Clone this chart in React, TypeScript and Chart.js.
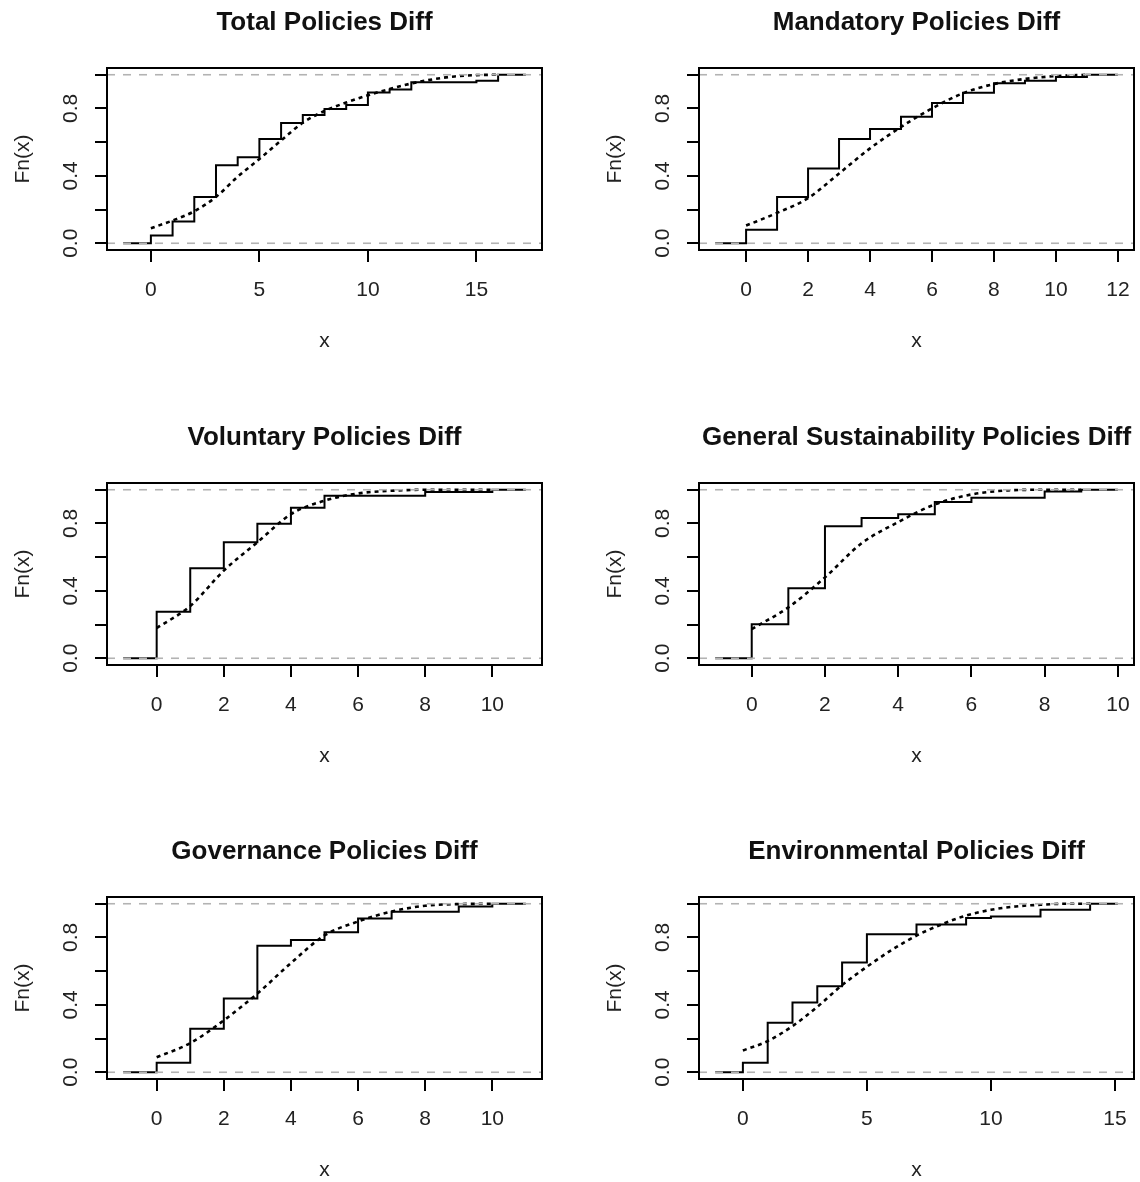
import React, { useEffect, useRef } from "react";
import { Chart, registerables } from "chart.js";

Chart.register(...registerables);

const FONT = '"Liberation Sans", Arial, Helvetica, sans-serif';

// ---------- data ----------
const titles = [
  "Total Policies Diff",
  "Mandatory Policies Diff",
  "Voluntary Policies Diff",
  "General Sustainability Policies Diff",
  "Governance Policies Diff",
  "Environmental Policies Diff",
];

// ECDF knots (x) and Fn values after each jump
const totalKnots = [0, 1, 2, 3, 4, 5, 6, 7, 8, 9, 10, 11, 12, 15, 16];
const totalFn = [0.046, 0.129, 0.274, 0.463, 0.511, 0.618, 0.714, 0.761, 0.797, 0.821, 0.895, 0.913, 0.956, 0.964, 1.0];
const totalFitX = [0, 1, 2, 3, 4, 5, 6, 7, 8, 9, 10, 11, 12, 13, 14, 15, 16];
const totalFitY = [0.089, 0.135, 0.19, 0.275, 0.395, 0.5, 0.61, 0.715, 0.785, 0.835, 0.878, 0.915, 0.948, 0.973, 0.99, 0.998, 1.0];

const mandKnots = [0, 1, 2, 3, 4, 5, 6, 7, 8, 9, 10, 11];
const mandFn = [0.08, 0.274, 0.443, 0.618, 0.678, 0.75, 0.833, 0.893, 0.95, 0.964, 0.986, 1.0];
const mandFitX = [0, 1, 2, 3, 4, 5, 6, 7, 8, 9, 10, 11];
const mandFitY = [0.105, 0.18, 0.268, 0.414, 0.563, 0.69, 0.8, 0.89, 0.945, 0.975, 0.992, 1.0];

const volKnots = [0, 1, 2, 3, 4, 5, 8, 10];
const volFn = [0.276, 0.534, 0.688, 0.798, 0.893, 0.964, 0.986, 1.0];
const volFitX = [0, 1, 2, 3, 4, 5, 6, 7, 8, 9, 10];
const volFitY = [0.179, 0.31, 0.52, 0.688, 0.855, 0.935, 0.978, 0.994, 1.0, 1.0, 1.0];

const genKnots = [0, 1, 2, 3, 4, 5, 6, 8, 9];
const genFn = [0.202, 0.415, 0.784, 0.833, 0.855, 0.927, 0.952, 0.99, 1.0];
const genFitX = [0, 1, 2, 3, 4, 5, 6, 7, 8, 9];
const genFitY = [0.173, 0.302, 0.48, 0.682, 0.808, 0.913, 0.972, 0.996, 1.0, 1.0];

const govKnots = [0, 1, 2, 3, 4, 5, 6, 7, 9, 10];
const govFn = [0.056, 0.258, 0.437, 0.75, 0.785, 0.831, 0.913, 0.952, 0.984, 1.0];
const govFitX = [0, 1, 2, 3, 4, 5, 6, 7, 8, 9, 10];
const govFitY = [0.089, 0.173, 0.308, 0.467, 0.648, 0.812, 0.895, 0.954, 0.988, 0.998, 1.0];

const envKnots = [0, 1, 2, 3, 4, 5, 7, 9, 10, 12, 14];
const envFn = [0.056, 0.294, 0.414, 0.511, 0.652, 0.819, 0.877, 0.915, 0.924, 0.964, 1.0];
const envFitX = [0, 1, 2, 3, 4, 5, 6, 7, 8, 9, 10, 11, 12, 13, 14];
const envFitY = [0.129, 0.185, 0.274, 0.388, 0.517, 0.626, 0.726, 0.811, 0.877, 0.93, 0.964, 0.984, 0.994, 1.0, 1.0];

// step-function plotting range (before R's 4% axis extension) and axis ranges
const stepRanges = [
  [-1.28, 17.28],
  [-1, 12],
  [-1, 11],
  [-1, 10],
  [-1, 11],
  [-1.12, 15.12],
];
const xRanges = [
  [-2.0224, 18.0224],
  [-1.52, 12.52],
  [-1.48, 11.48],
  [-1.44, 10.44],
  [-1.48, 11.48],
  [-1.7696, 15.7696],
];
const xTickSets = [
  [0, 5, 10, 15],
  [0, 2, 4, 6, 8, 10, 12],
  [0, 2, 4, 6, 8, 10],
  [0, 2, 4, 6, 8, 10],
  [0, 2, 4, 6, 8, 10],
  [0, 5, 10, 15],
];
const yTicks = [0, 0.2, 0.4, 0.6, 0.8, 1.0];
const yTickLabels = ["0.0", "", "0.4", "", "0.8", ""];
const yRange = [-0.04, 1.04];
const refLines = [0, 1];

const knotsList = [totalKnots, mandKnots, volKnots, genKnots, govKnots, envKnots];
const fnList = [totalFn, mandFn, volFn, genFn, govFn, envFn];
const fitXList = [totalFitX, mandFitX, volFitX, genFitX, govFitX, envFitX];
const fitYList = [totalFitY, mandFitY, volFitY, genFitY, govFitY, envFitY];

// ---------- layout ----------
const CANVAS_W = 570;
const CANVAS_H = 394;
const colLeft = [0, 592];
const rowTop = [0, 415, 829];

function Panel({ idx }: { idx: number }) {
  const ref = useRef<HTMLCanvasElement | null>(null);

  useEffect(() => {
    if (!ref.current) return;
    const knots = knotsList[idx];
    const fn = fnList[idx];
    const [lo, hi] = stepRanges[idx];
    const [xmin, xmax] = xRanges[idx];
    const xTicks = xTickSets[idx];
    const title = titles[idx];

    const stepData: { x: number; y: number }[] = [{ x: lo, y: 0 }];
    knots.forEach((k, i) => stepData.push({ x: k, y: fn[i] }));
    stepData.push({ x: hi, y: 1 });

    const fitData = fitXList[idx].map((x, i) => ({ x, y: fitYList[idx][i] }));

    const refDatasets = refLines.map((v) => ({
      data: [
        { x: xmin, y: v },
        { x: xmax, y: v },
      ],
      borderColor: "#b3b3b3",
      borderWidth: 1.6,
      borderDash: [8, 8],
      pointRadius: 0,
      fill: false,
    }));

    const textPlugin = {
      id: "rtext" + idx,
      afterDraw(chart: any) {
        const { ctx, chartArea: a } = chart;
        ctx.save();
        ctx.strokeStyle = "#000";
        ctx.lineWidth = 2;
        ctx.strokeRect(a.left, a.top, a.right - a.left, a.bottom - a.top);

        const cx = (a.left + a.right) / 2;
        const cy = (a.top + a.bottom) / 2;
        ctx.fillStyle = "#111";
        ctx.textAlign = "center";
        ctx.textBaseline = "alphabetic";
        ctx.font = `bold 26px ${FONT}`;
        ctx.fillText(title, cx, a.top - 38);

        ctx.fillStyle = "#222";
        ctx.font = `21px ${FONT}`;
        ctx.fillText("x", cx, a.bottom + 97);

        const ys = chart.scales.y;
        yTicks.forEach((v, i) => {
          const lab = yTickLabels[i];
          if (!lab) return;
          ctx.save();
          ctx.translate(a.left - 30, ys.getPixelForValue(v));
          ctx.rotate(-Math.PI / 2);
          ctx.fillText(lab, 0, 0);
          ctx.restore();
        });

        ctx.save();
        ctx.translate(a.left - 78, cy);
        ctx.rotate(-Math.PI / 2);
        ctx.fillText("Fn(x)", 0, 0);
        ctx.restore();
        ctx.restore();
      },
    };

    const gridOpts = {
      display: true,
      drawOnChartArea: false,
      drawTicks: true,
      tickLength: 12,
      color: "#000",
      lineWidth: 2,
    };

    const chart = new Chart(ref.current, {
      type: "line",
      data: {
        datasets: [
          ...refDatasets,
          {
            data: fitData,
            borderColor: "#000",
            borderWidth: 2.6,
            borderDash: [4, 4],
            pointRadius: 0,
            cubicInterpolationMode: "monotone",
            fill: false,
          },
          {
            data: stepData,
            borderColor: "#000",
            borderWidth: 2,
            stepped: "before",
            pointRadius: 0,
            fill: false,
          },
        ] as any,
      },
      options: {
        responsive: false,
        animation: false,
        devicePixelRatio: 1,
        layout: { padding: { left: 0, top: 68, right: 28, bottom: 0 } },
        plugins: {
          legend: { display: false },
          tooltip: { enabled: false },
          title: { display: false },
        },
        scales: {
          x: {
            type: "linear",
            min: xmin,
            max: xmax,
            afterBuildTicks: (s: any) => {
              s.ticks = xTicks.map((v) => ({ value: v }));
            },
            afterFit: (s: any) => {
              s.height = 144;
            },
            grid: gridOpts,
            border: { display: false },
            ticks: {
              color: "#222",
              font: { family: FONT, size: 21 },
              padding: 16,
              maxRotation: 0,
              minRotation: 0,
              autoSkip: false,
              callback: (v: any) => String(v),
            },
          },
          y: {
            type: "linear",
            min: yRange[0],
            max: yRange[1],
            afterBuildTicks: (s: any) => {
              s.ticks = yTicks.map((v) => ({ value: v }));
            },
            afterFit: (s: any) => {
              s.width = 107;
            },
            grid: gridOpts,
            border: { display: false },
            ticks: { display: false },
          },
        },
      } as any,
      plugins: [textPlugin],
    });
    return () => chart.destroy();
  }, [idx]);

  const col = idx % 2;
  const row = Math.floor(idx / 2);
  return (
    <canvas
      ref={ref}
      width={CANVAS_W}
      height={CANVAS_H}
      style={{
        position: "absolute",
        left: colLeft[col],
        top: rowTop[row],
        width: CANVAS_W,
        height: CANVAS_H,
      }}
    />
  );
}

export default function App() {
  return (
    <div
      style={{
        position: "fixed",
        left: 0,
        top: 0,
        width: 1140,
        height: 1182,
        overflow: "hidden",
        background: "#fff",
      }}
    >
      {titles.map((_, i) => (
        <Panel key={i} idx={i} />
      ))}
    </div>
  );
}
